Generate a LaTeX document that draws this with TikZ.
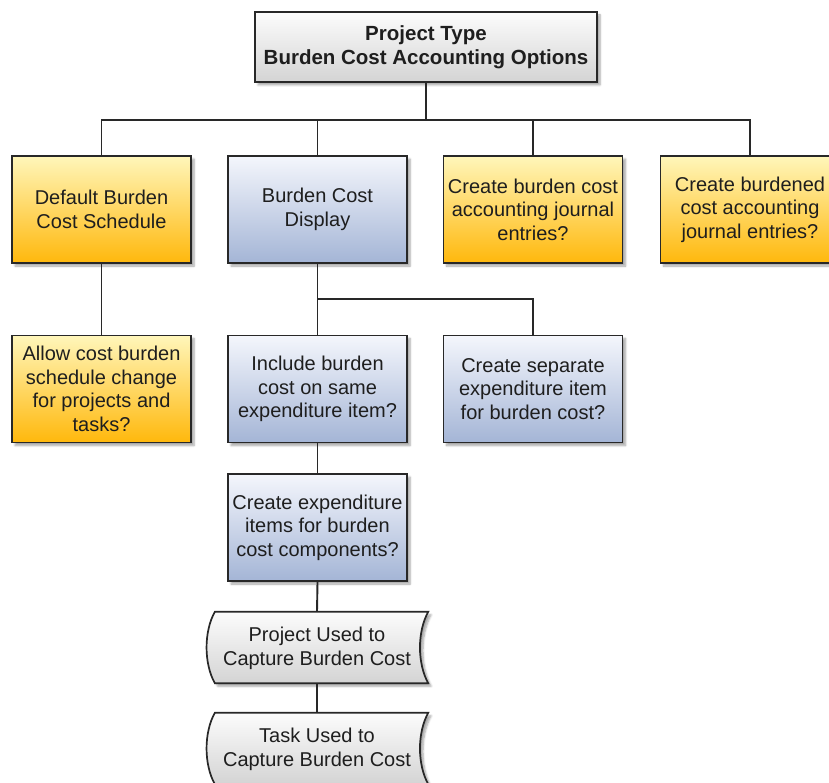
\documentclass[tikz,border=0pt]{standalone}
\usepackage{fontspec}
\setmainfont{Liberation Sans}
\usetikzlibrary{shadows.blur,calc}
\definecolor{ytop}{RGB}{255,246,186}
\definecolor{ybot}{RGB}{255,184,12}
\definecolor{btop}{RGB}{244,246,252}
\definecolor{bbot}{RGB}{164,181,214}
\definecolor{gtop}{RGB}{252,252,252}
\definecolor{gbot}{RGB}{212,212,212}
\definecolor{edgec}{RGB}{40,40,40}
\definecolor{txt}{RGB}{30,30,30}
\tikzset{
  shad/.style={blur shadow={shadow blur steps=6, shadow xshift=3pt, shadow yshift=-3pt, shadow opacity=35, shadow blur radius=2pt}},
  box/.style={draw=edgec, line width=1.7pt, minimum width=179pt, minimum height=107pt, inner sep=0pt, align=center, text=txt, font=\fontsize{20}{23.5}\selectfont, shad},
  ybox/.style={box, top color=ytop, bottom color=ybot},
  bbox/.style={box, top color=btop, bottom color=bbot},
  gbox/.style={box, top color=gtop, bottom color=gbot, minimum width=342pt, minimum height=70pt, font=\fontsize{20.5}{23.5}\selectfont\bfseries},
  sdnode/.style={minimum width=222pt, minimum height=71pt, inner sep=0pt, align=center, text=txt, font=\fontsize{20}{23.5}\selectfont},
  sdshape/.style={draw=edgec, line width=1.7pt, top color=gtop, bottom color=gbot, shad},
  conn/.style={draw=edgec, line width=1.9pt}
}
\begin{document}
\begin{tikzpicture}[x=1pt,y=-1pt]
\useasboundingbox (0,0) rectangle (829,783);
\node[sdnode] (p5) at (317,647.5) {};
\node[sdnode] (p6) at (317,748.5) {};
\foreach \n in {p5,p6}{
  \path[sdshape] ($(\n.north west)+(9,0)$)
    .. controls ($(\n.north west)+(-2,20)$) and ($(\n.south west)+(-2,-20)$) .. ($(\n.south west)+(9,0)$)
    -- ($(\n.south east)$)
    .. controls ($(\n.south east)+(-11,-20)$) and ($(\n.north east)+(-11,20)$) .. ($(\n.north east)$)
    -- cycle;
}
\node[sdnode] at ($(p5)+(0,1)$) {Project Used to\\Capture Burden Cost};
\node[sdnode] at ($(p6)+(0,1)$) {Task Used to\\Capture Burden Cost};

\node[gbox] (top) at (426,47) {Project Type\\Burden Cost Accounting Options};
\node[ybox] (b1) at (101.5,209.5) {Default Burden\\Cost Schedule};
\node[bbox] (b2) at (317.5,209.5) {Burden Cost\\Display};
\node[ybox] (b3) at (533,209.5) {Create burden cost\\accounting journal\\entries?};
\node[ybox] (b4) at (750,209.5) {Create burdened\\cost accounting\\journal entries?};
\node[ybox] (c1) at (101.5,389) {Allow cost burden\\schedule change\\for projects and\\tasks?};
\node[bbox] (c2) at (317.5,389) {Include burden\\cost on same\\expenditure item?};
\node[bbox] (c3) at (533,389) {Create separate\\expenditure item\\for burden cost?};
\node[bbox] (d2) at (317.5,527.5) {Create expenditure\\items for burden\\cost components?};

\coordinate (bus) at (426,120);
\coordinate (sub) at (317.5,299);
\draw[conn] (top.south) -- (bus);
\draw[conn] (b1.north) |- (bus);
\draw[conn] (b2.north) |- (bus);
\draw[conn] (b3.north) |- (bus);
\draw[conn] (b4.north) |- (bus);
\draw[conn] (b1.south) -- (c1.north);
\draw[conn] (b2.south) -- (c2.north);
\draw[conn] (c3.north) |- (sub);
\draw[conn] (c2.south) -- (d2.north);
\draw[conn] (d2.south) -- (p5.north);
\draw[conn] (p5.south) -- (p6.north);
\end{tikzpicture}
\end{document}
